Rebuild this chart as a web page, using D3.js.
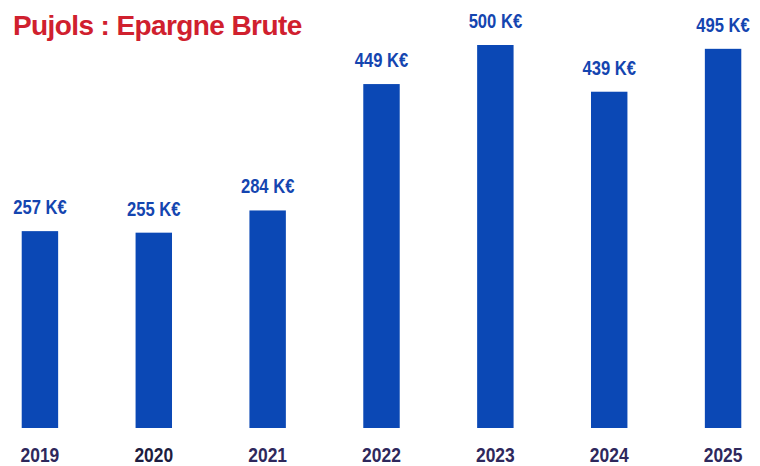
<!DOCTYPE html>
<html>
<head>
<meta charset="utf-8">
<script src="https://cdn.jsdelivr.net/npm/d3@7"></script>
<style>
  body { margin: 0; background: #fff; }
  text { font-family: "Liberation Sans", Arial, sans-serif; font-weight: bold; }
</style>
</head>
<body>
<div id="canvas"></div>
<script>
"use strict"

let svgWidth = 760;
let svgHeight = 466;

// data, in K€
let years = ["2019", "2020", "2021", "2022", "2023", "2024", "2025"];
let values = [257, 255, 284, 449, 500, 439, 495];
let titleText = "Pujols : Epargne Brute";

let narrow = 0.83; // no narrow font installed, so squeeze the labels by hand

let svg = d3.select("#canvas")
    .append("svg")
    .attr("width", svgWidth)
    .attr("height", svgHeight);

svg.append("rect")
    .attr("width", svgWidth)
    .attr("height", svgHeight)
    .attr("fill", "#ffffff");

/* bars sit on y=428, 500 reaches y=45 */
let xScale = d3.scaleBand()
    .domain(years)
    .range([-17, 780])
    .paddingInner(0.68)
    .paddingOuter(0.34);

let yScale = d3.scaleLinear()
    .domain([0, 500])
    .range([428, 45]);

function midX(year) {
    return xScale(year) + xScale.bandwidth() / 2;
}

svg.selectAll("rect.bar")
    .data(values)
    .join("rect")
    .attr("class", "bar")
    .attr("x", function (d, i) { return xScale(years[i]); })
    .attr("y", function (d) { return yScale(d); })
    .attr("width", xScale.bandwidth())
    .attr("height", function (d) { return yScale(0) - yScale(d); })
    .attr("fill", "#0b48b5");

// value labels above the bars
svg.selectAll("text.value")
    .data(values)
    .join("text")
    .attr("class", "value")
    .attr("transform", function (d, i) {
        return "translate(" + midX(years[i]) + "," + (yScale(d) - 17) + ") scale(" + narrow + ",1)";
    })
    .attr("text-anchor", "middle")
    .attr("font-size", 20)
    .attr("fill", "#1445b0")
    .text(function (d) { return d + " K€"; });

// year labels along the bottom
svg.selectAll("text.year")
    .data(years)
    .join("text")
    .attr("class", "year")
    .attr("transform", function (d) {
        return "translate(" + midX(d) + ",462) scale(" + narrow + ",1)";
    })
    .attr("text-anchor", "middle")
    .attr("font-size", 21)
    .attr("fill", function (d) { return d === "2020" ? "#1e1d40" : "#2e285c"; })
    .text(function (d) { return d; });

svg.append("text")
    .attr("x", 13)
    .attr("y", 35)
    .attr("font-size", 28)
    .attr("letter-spacing", "-0.6px")
    .attr("fill", "#d0202e")
    .text(titleText);
</script>
</body>
</html>
